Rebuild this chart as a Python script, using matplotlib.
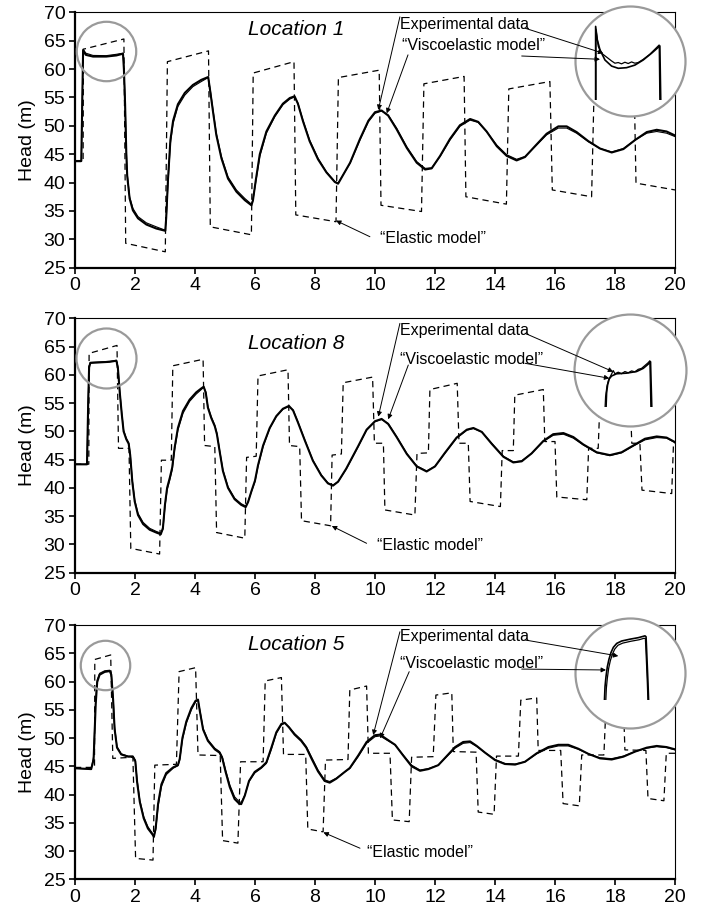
import matplotlib
matplotlib.use('Agg')
import matplotlib.pyplot as plt

plt.rcParams['font.family'] = ['Liberation Sans', 'DejaVu Sans']

W, H = 701, 909

# ---------------- Location 1 ----------------
loc1_t = [0, 0.21, 0.27, 0.36, 0.6, 1.04, 1.38, 1.6, 1.63, 1.67, 1.71, 1.74, 1.82, 1.93, 2.1,
          2.38, 2.71, 3.01, 3.04, 3.1, 3.18, 3.27, 3.43, 3.66, 3.93, 4.21, 4.44, 4.51, 4.6, 4.71,
          4.88, 5.1, 5.38, 5.66, 5.88, 5.93, 6.02, 6.16, 6.38, 6.66, 6.93, 7.16, 7.32, 7.43, 7.6,
          7.82, 8.1, 8.38, 8.66, 8.77, 9.17, 9.5, 9.78, 10.0, 10.22, 10.44, 10.72, 11.06, 11.39, 11.67,
          11.89, 12.17, 12.5, 12.83, 13.17, 13.44, 13.72, 14.06, 14.39, 14.72, 15.0, 15.33, 15.72, 16.11, 16.39,
          16.72, 17.11, 17.5, 17.89, 18.28, 18.67, 19.06, 19.39, 19.72, 20.0]
loc1_exp = [43.8, 43.8, 63.5, 62.8, 62.4, 62.36, 62.6, 62.8, 60.4, 54.5, 45.7, 41.6, 37.5, 35.45, 34.0,
            32.9, 32.2, 31.6, 33.4, 39.9, 46.9, 50.4, 53.4, 55.4, 56.9, 57.8, 58.5, 56.3, 52.8, 48.7,
            44.6, 41.0, 38.7, 37.2, 36.2, 36.9, 39.9, 44.6, 48.7, 51.6, 53.7, 54.7, 55.1, 54.0, 51.0,
            47.5, 44.3, 41.9, 40.2, 39.9, 43.4, 47.5, 50.7, 52.2, 52.6, 51.9, 49.6, 46.3, 43.7, 42.5,
            42.6, 44.6, 47.5, 49.9, 51.0, 50.6, 49.0, 46.6, 44.9, 44.1, 44.6, 46.3, 48.4, 49.6, 49.6,
            48.7, 47.2, 46.0, 45.4, 46.0, 47.5, 48.7, 49.0, 48.7, 48.1]
loc1_visc = [43.8, 43.8, 63.3, 62.5, 62.2, 62.2, 62.4, 62.7, 60.0, 53.8, 45.2, 41.2, 37.2, 35.1, 33.7,
             32.6, 31.9, 31.5, 33.8, 40.6, 47.5, 50.9, 53.8, 55.8, 57.2, 58.1, 58.6, 56.0, 52.5, 48.4,
             44.3, 40.7, 38.4, 36.9, 36.0, 36.8, 40.2, 45.0, 49.0, 51.8, 53.9, 54.9, 55.2, 53.9, 50.8,
             47.3, 44.1, 41.8, 40.1, 39.8, 43.5, 47.7, 50.9, 52.4, 52.7, 51.8, 49.4, 46.1, 43.5, 42.3,
             42.5, 44.7, 47.7, 50.1, 51.2, 50.7, 49.0, 46.4, 44.7, 43.9, 44.5, 46.4, 48.6, 49.9, 49.9,
             48.9, 47.3, 46.0, 45.3, 45.9, 47.5, 48.9, 49.3, 49.0, 48.3]
loc1_el_t = [0, 0.27, 0.28, 1.63, 1.69, 3.01, 3.08, 4.45, 4.51, 5.88, 5.94, 7.30, 7.36, 8.70, 8.78,
             10.14, 10.2, 11.55, 11.63, 12.97, 13.03, 14.38, 14.46, 15.83, 15.91, 17.22, 17.3, 18.64, 18.7, 20.0]
loc1_el = [43.7, 43.7, 63.5, 65.3, 29.3, 27.8, 61.3, 63.2, 32.2, 30.8, 59.3, 61.3, 34.3, 33.1, 58.5,
           59.8, 36.0, 34.9, 57.4, 58.7, 37.5, 36.2, 56.5, 57.8, 38.7, 37.5, 55.6, 56.9, 39.9, 38.7]
# zoomed plateau (inset)
loc1_zoom_t_exp = [0.297, 0.297, 0.344, 0.412, 0.514, 0.615, 0.683, 0.751, 0.818, 0.886, 0.954, 1.022,
                   1.089, 1.157, 1.259, 1.394, 1.584, 1.598]
loc1_zoom_exp = [61.0, 63.4, 62.87, 62.66, 62.54, 62.42, 62.35, 62.37, 62.33, 62.38, 62.34, 62.39,
                 62.35, 62.37, 62.47, 62.63, 62.92, 61.0]
loc1_zoom_t_visc = [0.29, 0.29, 0.324, 0.378, 0.48, 0.615, 0.751, 0.92, 1.089, 1.259, 1.428, 1.598, 1.618]
loc1_zoom_visc = [61.0, 63.5, 63.08, 62.77, 62.45, 62.26, 62.19, 62.21, 62.29, 62.45, 62.66, 62.89, 61.0]

# ---------------- Location 8 ----------------
loc8_t = [0, 0.4, 0.44, 0.47, 0.51, 0.82, 1.16, 1.38, 1.43, 1.49, 1.56, 1.62, 1.71, 1.79, 1.84,
          1.91, 1.99, 2.1, 2.27, 2.49, 2.71, 2.86, 2.93, 3.0, 3.07, 3.16, 3.24, 3.32, 3.43, 3.6,
          3.82, 4.04, 4.21, 4.29, 4.36, 4.43, 4.54, 4.66, 4.73, 4.82, 4.93, 5.1, 5.32, 5.54, 5.69,
          5.77, 5.88, 6.0, 6.1, 6.27, 6.49, 6.71, 6.93, 7.13, 7.27, 7.43, 7.66, 7.93, 8.21, 8.43,
          8.6, 8.77, 9.04, 9.44, 9.72, 10.0, 10.22, 10.44, 10.72, 11.06, 11.39, 11.72, 12.0, 12.33, 12.72,
          13.06, 13.28, 13.56, 13.89, 14.28, 14.61, 14.89, 15.22, 15.61, 15.94, 16.28, 16.61, 16.94, 17.39, 17.83,
          18.22, 18.61, 19.0, 19.39, 19.72, 20.0]
loc8_exp = [44.17, 44.17, 55.6, 61.45, 62.2, 62.28, 62.4, 62.57, 61.45, 57.3, 53.2, 50.2, 48.8, 48.0, 46.1,
            41.4, 37.9, 35.5, 33.9, 32.85, 32.3, 32.0, 32.6, 36.7, 39.6, 41.4, 43.2, 46.7, 50.2, 53.2,
            55.3, 56.6, 57.4, 57.8, 57.0, 54.4, 52.6, 51.1, 49.7, 46.7, 43.2, 40.2, 38.2, 37.2, 36.8,
            37.6, 39.3, 41.1, 43.8, 47.3, 50.5, 52.6, 53.9, 54.4, 53.8, 51.7, 48.5, 44.9, 42.3, 40.9,
            40.5, 41.1, 43.3, 47.3, 50.2, 51.7, 52.1, 51.4, 49.1, 46.1, 43.9, 43.0, 43.8, 46.1, 48.8,
            50.2, 50.5, 49.9, 47.9, 45.6, 44.6, 44.8, 46.1, 48.2, 49.3, 49.5, 48.8, 47.6, 46.2, 45.7,
            46.2, 47.4, 48.5, 48.9, 48.8, 48.0]
loc8_visc = [44.17, 44.17, 55.0, 61.3, 62.1, 62.2, 62.3, 62.5, 61.2, 57.0, 53.0, 50.0, 48.6, 47.8, 45.8,
             41.1, 37.6, 35.2, 33.6, 32.6, 32.1, 31.8, 32.9, 37.1, 40.0, 41.8, 43.6, 47.1, 50.6, 53.6,
             55.6, 56.9, 57.6, 57.9, 56.8, 54.2, 52.4, 50.9, 49.5, 46.5, 43.0, 40.0, 38.0, 37.0, 36.6,
             37.5, 39.4, 41.3, 44.0, 47.5, 50.6, 52.7, 54.0, 54.5, 53.7, 51.6, 48.4, 44.8, 42.2, 40.8,
             40.4, 41.1, 43.4, 47.4, 50.3, 51.8, 52.2, 51.3, 49.0, 46.0, 43.8, 42.9, 43.8, 46.2, 48.9,
             50.3, 50.6, 49.9, 47.8, 45.5, 44.5, 44.7, 46.1, 48.3, 49.5, 49.7, 49.0, 47.7, 46.3, 45.8,
             46.3, 47.5, 48.7, 49.1, 48.9, 48.1]
loc8_el_t = [0, 0.46, 0.47, 1.4, 1.45, 1.8, 1.86, 2.82, 2.88, 3.21, 3.26, 4.27, 4.32, 4.66, 4.72,
             5.66, 5.72, 6.04, 6.1, 7.1, 7.15, 7.49, 7.55, 8.52, 8.57, 8.88, 8.94, 9.92, 9.98, 10.28,
             10.33, 11.33, 11.4, 11.78, 11.83, 12.74, 12.8, 13.11, 13.17, 14.18, 14.24, 14.61, 14.66, 15.61, 15.66,
             16.0, 16.06, 17.06, 17.12, 17.44, 17.5, 18.5, 18.56, 18.83, 18.9, 19.89, 19.95, 20.0]
loc8_el = [44.2, 44.2, 63.8, 65.2, 47.0, 47.0, 29.3, 28.3, 44.9, 44.9, 61.6, 62.75, 47.5, 47.3, 32.1,
           31.1, 45.4, 45.6, 59.8, 60.9, 47.5, 47.3, 34.2, 33.3, 45.8, 46.0, 58.6, 59.6, 47.9, 47.9,
           36.1, 35.2, 46.1, 46.2, 57.4, 58.5, 47.9, 47.9, 37.6, 36.7, 46.6, 46.6, 56.4, 57.4, 48.2,
           48.2, 38.4, 37.9, 47.0, 47.0, 55.6, 56.5, 47.9, 47.9, 39.6, 39.0, 47.9, 47.9]
loc8_zoom_t_exp = [0.48, 0.493, 0.52, 0.554, 0.595, 0.649, 0.683, 0.751, 0.818, 0.886, 0.954, 1.022,
                   1.089, 1.157, 1.225, 1.293, 1.36, 1.394, 1.415]
loc8_zoom_exp = [61.0, 61.42, 61.74, 61.95, 62.07, 62.24, 62.14, 62.19, 62.14, 62.21, 62.17, 62.23,
                 62.2, 62.28, 62.31, 62.4, 62.49, 62.55, 61.0]
loc8_zoom_t_visc = [0.5, 0.513, 0.534, 0.568, 0.615, 0.717, 0.92, 1.123, 1.259, 1.381, 1.408, 1.435]
loc8_zoom_visc = [61.0, 61.53, 61.79, 61.98, 62.07, 62.14, 62.16, 62.21, 62.31, 62.47, 62.52, 61.0]

# ---------------- Location 5 ----------------
loc5_t = [0, 0.54, 0.62, 0.69, 0.74, 0.82, 0.99, 1.16, 1.21, 1.27, 1.32, 1.4, 1.54, 1.77, 1.93,
          2.01, 2.07, 2.16, 2.29, 2.43, 2.58, 2.63, 2.69, 2.77, 2.88, 3.04, 3.27, 3.43, 3.49, 3.58,
          3.71, 3.88, 4.02, 4.1, 4.16, 4.27, 4.43, 4.66, 4.82, 4.91, 5.02, 5.16, 5.32, 5.47, 5.54,
          5.66, 5.8, 5.99, 6.21, 6.38, 6.54, 6.71, 6.88, 6.99, 7.13, 7.32, 7.54, 7.71, 7.88, 8.1,
          8.32, 8.49, 8.71, 8.99, 9.16, 9.44, 9.72, 10.0, 10.17, 10.39, 10.67, 10.94, 11.22, 11.5, 11.78,
          12.11, 12.39, 12.67, 12.94, 13.17, 13.39, 13.67, 14.0, 14.33, 14.67, 15.0, 15.39, 15.78, 16.11, 16.44,
          16.78, 17.11, 17.5, 17.89, 18.28, 18.67, 19.06, 19.39, 19.72, 20.0]
loc5_exp = [44.65, 44.5, 46.7, 56.7, 60.3, 61.45, 61.9, 62.0, 61.45, 57.3, 52.0, 48.5, 47.2, 46.8, 46.8,
            46.1, 42.6, 39.0, 36.1, 34.3, 33.15, 32.7, 33.7, 37.9, 41.4, 43.5, 44.65, 45.1, 46.1, 49.7,
            52.6, 55.0, 56.4, 56.7, 55.0, 51.7, 49.7, 48.2, 47.6, 46.7, 44.35, 41.7, 39.6, 38.75, 38.6,
            39.9, 42.3, 43.8, 44.65, 45.5, 47.9, 50.8, 52.3, 52.6, 52.0, 50.8, 49.7, 48.5, 46.7, 44.35,
            42.6, 42.3, 42.9, 44.0, 44.6, 46.7, 49.06, 50.24, 50.36, 49.65, 48.77, 47.0, 45.2, 44.34, 44.6,
            45.2, 46.7, 48.2, 49.06, 49.2, 48.5, 47.4, 46.2, 45.5, 45.4, 45.8, 47.2, 48.2, 48.6, 48.6,
            48.0, 47.2, 46.5, 46.35, 46.8, 47.6, 48.2, 48.47, 48.3, 47.9]
loc5_visc = [44.65, 44.5, 46.2, 56.0, 59.9, 61.2, 61.7, 61.85, 61.2, 56.8, 51.6, 48.3, 47.1, 46.7, 46.7,
             45.9, 42.2, 38.7, 35.8, 34.0, 32.95, 32.5, 34.1, 38.4, 41.8, 43.8, 44.8, 45.2, 46.3, 50.0,
             52.9, 55.3, 56.6, 56.8, 54.8, 51.5, 49.5, 48.0, 47.4, 46.4, 44.0, 41.3, 39.2, 38.4, 38.3,
             39.8, 42.4, 44.0, 44.8, 45.7, 48.2, 51.0, 52.5, 52.7, 51.9, 50.6, 49.5, 48.3, 46.4, 44.1,
             42.4, 42.1, 42.8, 44.0, 44.7, 46.9, 49.3, 50.5, 50.6, 49.8, 48.8, 46.9, 45.0, 44.2, 44.5,
             45.2, 46.8, 48.4, 49.3, 49.4, 48.6, 47.4, 46.1, 45.4, 45.3, 45.8, 47.3, 48.4, 48.8, 48.8,
             48.1, 47.2, 46.4, 46.2, 46.7, 47.6, 48.3, 48.6, 48.4, 48.0]
loc5_el_t = [0, 0.65, 0.66, 1.19, 1.26, 1.93, 2.02, 2.6, 2.66, 3.38, 3.47, 4.02, 4.1, 4.84, 4.92,
             5.43, 5.52, 6.27, 6.34, 6.88, 6.95, 7.69, 7.76, 8.27, 8.35, 9.1, 9.16, 9.72, 9.78, 10.5,
             10.58, 11.14, 11.22, 11.94, 12.03, 12.56, 12.61, 13.37, 13.44, 13.97, 14.05, 14.78, 14.86, 15.39, 15.44,
             16.19, 16.27, 16.81, 16.89, 17.63, 17.7, 18.28, 18.33, 19.03, 19.1, 19.63, 19.71, 20.0]
loc5_el = [44.8, 44.8, 63.9, 64.7, 46.4, 46.6, 28.7, 28.4, 45.2, 45.35, 61.75, 62.45, 47.0, 46.9, 31.85,
           31.4, 45.8, 45.8, 60.1, 60.7, 47.1, 47.1, 33.9, 33.4, 46.1, 46.2, 58.5, 59.2, 47.3, 47.3,
           35.5, 35.2, 46.6, 46.7, 57.6, 58.0, 47.6, 47.5, 36.9, 36.5, 46.8, 46.8, 56.7, 57.1, 47.8,
           47.8, 38.4, 38.0, 47.0, 47.0, 55.8, 56.2, 47.9, 47.8, 39.3, 38.9, 47.3, 47.3]
loc5_zoom_t_exp = [0.719, 0.728, 0.741, 0.759, 0.781, 0.808, 0.839, 0.883, 0.946, 1.052, 1.163, 1.23,
                   1.248, 1.261, 1.274, 1.283]
loc5_zoom_exp = [59.9, 60.39, 60.72, 61.05, 61.3, 61.51, 61.68, 61.81, 61.88, 61.94, 61.99, 62.04,
                 62.03, 61.32, 60.55, 59.9]
loc5_zoom_t_visc = [0.701, 0.71, 0.723, 0.741, 0.763, 0.79, 0.821, 0.866, 0.932, 1.043, 1.154, 1.243,
                    1.257, 1.27, 1.283, 1.292]
loc5_zoom_visc = [59.9, 60.44, 60.77, 61.1, 61.35, 61.57, 61.74, 61.87, 61.95, 62.01, 62.06, 62.12,
                  62.09, 61.32, 60.55, 59.9]

# layout: pixel boxes, text spots and arrows (main data coordinates)
panels = [
    dict(title='Location 1', box=(75, 12.3, 675, 267.7),
         t=loc1_t, exp=loc1_exp, visc=loc1_visc, el_t=loc1_el_t, el=loc1_el,
         zt_exp=loc1_zoom_t_exp, z_exp=loc1_zoom_exp, zt_visc=loc1_zoom_t_visc, z_visc=loc1_zoom_visc,
         title_xy=(7.36, 66.9), exp_xy=(10.83, 67.9), visc_xy=(10.89, 64.1), el_xy=(10.17, 30.1),
         exp_arrow=((10.83, 69.2), (10.11, 52.8)), visc_arrow=((11.1, 62.5), (10.39, 52.2)),
         el_arrow=((9.83, 30.46), (8.7, 33.3)),
         exp_in=((15.0, 67.2), (17.61, 62.78)), visc_in=((14.89, 62.3), (17.5, 61.72)),
         small=(1.04, 63.13, 42.8), big=(18.5, 61.42, 79.2),
         inset_box=(575, 4, 685, 100), inset_xlim=(-0.13, 2.11), inset_ylim=(61.2, 64.2)),
    dict(title='Location 8', box=(75, 318.3, 675, 572.7),
         t=loc8_t, exp=loc8_exp, visc=loc8_visc, el_t=loc8_el_t, el=loc8_el,
         zt_exp=loc8_zoom_t_exp, z_exp=loc8_zoom_exp, zt_visc=loc8_zoom_t_visc, z_visc=loc8_zoom_visc,
         title_xy=(7.36, 65.6), exp_xy=(10.83, 67.9), visc_xy=(10.83, 62.8), el_xy=(10.06, 29.8),
         exp_arrow=((10.83, 69.1), (10.11, 52.6)), visc_arrow=((11.11, 61.74), (10.44, 52.13)),
         el_arrow=((9.72, 30.2), (8.56, 33.26)),
         exp_in=((15.0, 67.35), (17.94, 60.55)), visc_in=((15.0, 62.04), (17.81, 59.39)),
         small=(1.03, 62.92, 43.2), big=(18.5, 60.85, 80.6),
         inset_box=(575, 311.7, 685, 406.7), inset_xlim=(-0.13, 2.11), inset_ylim=(61.1, 64.1)),
    dict(title='Location 5', box=(75, 625, 675, 879.3),
         t=loc5_t, exp=loc5_exp, visc=loc5_visc, el_t=loc5_el_t, el=loc5_el,
         zt_exp=loc5_zoom_t_exp, z_exp=loc5_zoom_exp, zt_visc=loc5_zoom_t_visc, z_visc=loc5_zoom_visc,
         title_xy=(7.36, 66.5), exp_xy=(10.83, 67.9), visc_xy=(10.83, 63.1), el_xy=(9.72, 29.8),
         exp_arrow=((10.83, 68.8), (9.94, 50.53)), visc_arrow=((11.14, 61.74), (10.17, 49.95)),
         el_arrow=((9.5, 30.5), (8.28, 33.3)),
         exp_in=((15.0, 67.35), (18.11, 64.51)), visc_in=((14.89, 62.2), (17.7, 62.04)),
         small=(0.99, 62.97, 35.6), big=(18.5, 61.45, 79.2),
         inset_box=(575, 618.3, 685, 700), inset_xlim=(0.31, 1.776), inset_ylim=(60.0, 62.7)),
]

ARROW = dict(arrowstyle='-|>', lw=0.7, color='black', mutation_scale=7, shrinkA=0, shrinkB=0)
CIRCLE_GREY = '#9a9a9a'


def px_rect(x0, y0, x1, y1):
    return [x0 / W, 1 - y1 / H, (x1 - x0) / W, (y1 - y0) / H]


def draw_panel(fig, p):
    ax = fig.add_axes(px_rect(*p['box']))
    ax.plot(p['el_t'], p['el'], color='black', lw=0.9, ls=(0, (5, 3.5)), zorder=2)
    ax.plot(p['t'], p['exp'], color='black', lw=0.8, zorder=3)
    ax.plot(p['t'], p['visc'], color='black', lw=1.5, zorder=3)

    ax.set_xlim(0, 20)
    ax.set_ylim(25, 70)
    ax.set_xticks(range(0, 21, 2))
    ax.set_yticks(range(25, 71, 5))
    ax.tick_params(direction='out', length=4, width=1.2, labelsize=14, pad=3)
    for s in ['left', 'bottom']:
        ax.spines[s].set_linewidth(1.6)
    for s in ['top', 'right']:
        ax.spines[s].set_linewidth(0.8)
    ax.set_ylabel('Head (m)', fontsize=14, labelpad=5)

    ax.text(*p['title_xy'], p['title'], style='italic', fontsize=15, ha='center', va='center')
    ax.text(*p['exp_xy'], 'Experimental data', fontsize=11.5, ha='left', va='center')
    ax.text(*p['visc_xy'], '\u201cViscoelastic model\u201d', fontsize=11.5, ha='left', va='center')
    ax.text(*p['el_xy'], '\u201cElastic model\u201d', fontsize=11.5, ha='left', va='center')
    for key in ['exp_arrow', 'visc_arrow', 'el_arrow']:
        start, end = p[key]
        ax.annotate('', xy=end, xytext=start, arrowprops=ARROW, zorder=4)

    sx, sy, sd = p['small']
    ax.plot([sx], [sy], 'o', ms=sd, mfc='none', mec=CIRCLE_GREY, mew=1.6, clip_on=False, zorder=5)
    bx, by, bd = p['big']
    ax.plot([bx], [by], 'o', ms=bd, mfc='white', mec=CIRCLE_GREY, mew=1.6, clip_on=False, zorder=6)

    # magnified plateau drawn inside the big circle
    iax = fig.add_axes(px_rect(*p['inset_box']))
    iax.set_axis_off()
    iax.plot(p['zt_exp'], p['z_exp'], color='black', lw=0.9)
    iax.plot(p['zt_visc'], p['z_visc'], color='black', lw=1.2)
    iax.set_xlim(*p['inset_xlim'])
    iax.set_ylim(*p['inset_ylim'])
    for key in ['exp_in', 'visc_in']:
        start, end = p[key]
        iax.annotate('', xy=end, xycoords=ax.transData, xytext=start, textcoords=ax.transData,
                     arrowprops=ARROW, annotation_clip=False)


def main():
    fig = plt.figure(figsize=(W / 100, H / 100), dpi=100)
    for p in panels:
        draw_panel(fig, p)
    fig.savefig('out.png', dpi=100)
    plt.close(fig)


if __name__ == '__main__':
    main()
